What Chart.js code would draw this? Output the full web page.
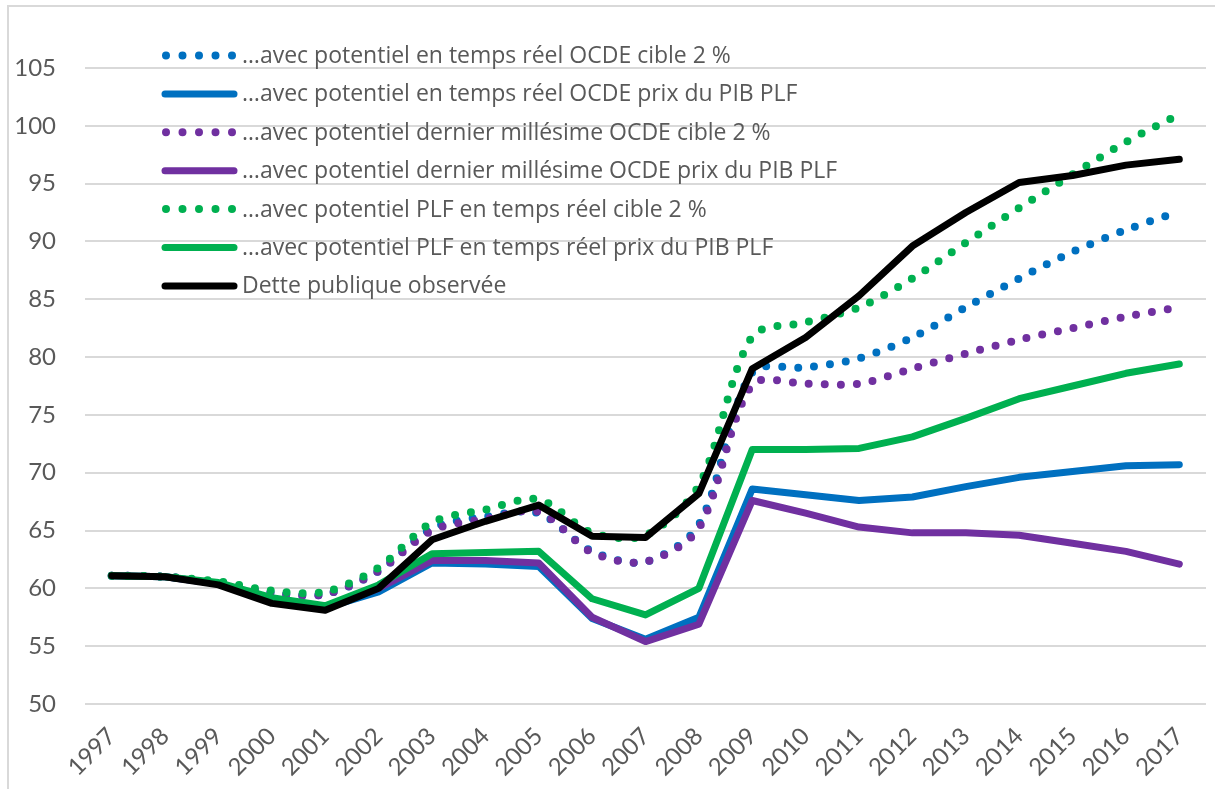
<!DOCTYPE html>
<html>
<head>
<meta charset="utf-8">
<script src="https://cdn.jsdelivr.net/npm/chart.js@4"></script>
<style>
  html, body { margin: 0; padding: 0; background: #fff; }
  #wrap { width: 1215px; height: 789px; }
</style>
</head>
<body>
<div id="wrap"><canvas id="chart" width="1215" height="789"></canvas></div>
<script>
/* === DATA === */
const years = ["1997","1998","1999","2000","2001","2002","2003","2004","2005","2006","2007",
               "2008","2009","2010","2011","2012","2013","2014","2015","2016","2017"];
const yTicks = [50, 55, 60, 65, 70, 75, 80, 85, 90, 95, 100, 105];

const ocdeReelCible    = [61.1,61.0,60.5,59.6,59.5,61.5,65.2,66.2,66.5,63.2,62.3,65.5,78.7,79.1,79.9,81.7,84.3,86.8,89.1,91.0,92.6];
const ocdeReelPrix     = [61.1,61.0,60.4,59.0,58.3,59.7,62.2,62.1,61.9,57.4,55.6,57.5,68.6,68.1,67.6,67.9,68.8,69.6,70.1,70.6,70.7];
const ocdeDernierCible = [61.1,61.0,60.5,59.6,59.5,61.5,65.0,66.0,66.6,63.1,62.3,65.2,77.6,77.7,77.7,79.0,80.3,81.5,82.5,83.5,84.3];
const ocdeDernierPrix  = [61.1,61.0,60.4,59.0,58.3,60.0,62.4,62.4,62.2,57.5,55.4,56.9,67.6,66.5,65.3,64.8,64.8,64.6,63.9,63.2,62.1];
const plfCible         = [61.1,61.0,60.6,59.8,59.7,61.8,65.7,66.8,67.7,64.8,64.6,68.9,81.8,83.0,84.3,86.8,89.9,92.9,95.8,98.6,101.0];
const plfPrix          = [61.1,61.0,60.5,59.2,58.5,60.3,63.0,63.1,63.2,59.1,57.7,60.0,72.0,72.0,72.1,73.1,74.7,76.4,77.5,78.6,79.4];
const detteObservee    = [61.1,61.0,60.3,58.7,58.1,60.0,64.2,65.8,67.2,64.5,64.4,68.2,79.0,81.7,85.3,89.6,92.5,95.1,95.7,96.6,97.1];

const BLUE = "#0070C0", PURPLE = "#7030A0", GREEN = "#00B050", BLACK = "#000000";
const TEXT = "#595959", GRID = "#d9d9d9";
const FONT = "Lato";
const LEGEND_FONT = "23px 'Open Sans'";

// dotted = smoothed round dots, solid = straight thick line
function series(label, data, color, dotted, order) {
    return {
        label, data, order,
        borderColor: color,
        backgroundColor: color,
        borderWidth: dotted ? 8 : 7,
        borderDash: dotted ? [0, 16] : [],
        borderCapStyle: "round",
        borderJoinStyle: "round",
        tension: dotted ? 0.3 : 0,
        pointRadius: 0,
        fill: false,
        dotted,
    };
}

/* === PLUGINS === */
const frame = {
    id: "frame",
    beforeDraw(chart) {
        const ctx = chart.ctx;
        ctx.save();
        ctx.fillStyle = "#fff";
        ctx.fillRect(0, 0, chart.width, chart.height);
        ctx.strokeStyle = GRID;
        ctx.lineWidth = 2;
        ctx.beginPath();
        ctx.moveTo(8, chart.height);
        ctx.lineTo(8, 6);
        ctx.lineTo(chart.width, 6);
        ctx.stroke();
        ctx.restore();
    }
};

// legend drawn inside the plot, top-left, like the original
const innerLegend = {
    id: "innerLegend",
    afterDatasetsDraw(chart) {
        const ctx = chart.ctx;
        const x0 = 166, x1 = 234, textX = 242;
        let y = 55.5;
        ctx.save();
        chart.data.datasets.forEach(ds => {
            ctx.strokeStyle = ds.borderColor;
            ctx.lineCap = "round";
            ctx.lineWidth = ds.borderWidth;
            ctx.setLineDash(ds.dotted ? [0, 16.5] : []);
            ctx.beginPath();
            ctx.moveTo(ds.dotted ? x0 : x0 - 1, y);
            ctx.lineTo(ds.dotted ? x0 + 66.5 : x1, y);
            ctx.stroke();
            ctx.setLineDash([]);
            ctx.fillStyle = TEXT;
            ctx.font = LEGEND_FONT;
            ctx.textBaseline = "middle";
            ctx.textAlign = "left";
            ctx.fillText(ds.label, textX, y + 1);
            y += 38.4;
        });
        ctx.restore();
    }
};

/* === CHART === */
new Chart(document.getElementById("chart"), {
    type: "line",
    data: {
        labels: years,
        datasets: [
            series("\u2026avec potentiel en temps r\u00e9el OCDE cible 2 %", ocdeReelCible, BLUE, true, 6),
            series("\u2026avec potentiel en temps r\u00e9el OCDE prix du PIB PLF", ocdeReelPrix, BLUE, false, 5),
            series("\u2026avec potentiel dernier mill\u00e9sime OCDE cible 2 %", ocdeDernierCible, PURPLE, true, 4),
            series("\u2026avec potentiel dernier mill\u00e9sime OCDE prix du PIB PLF", ocdeDernierPrix, PURPLE, false, 3),
            series("\u2026avec potentiel PLF en temps r\u00e9el cible 2 %", plfCible, GREEN, true, 2),
            series("\u2026avec potentiel PLF en temps r\u00e9el prix du PIB PLF", plfPrix, GREEN, false, 1),
            series("Dette publique observ\u00e9e", detteObservee, BLACK, false, 0),
        ]
    },
    options: {
        responsive: false,
        animation: false,
        layout: { padding: { top: 68, right: 9, left: 0, bottom: 0 } },
        plugins: {
            legend: { display: false },
            tooltip: { enabled: false },
        },
        scales: {
            x: {
                offset: true,
                grid: { display: false },
                border: { display: false },
                ticks: {
                    color: TEXT,
                    font: { family: FONT, size: 24 },
                    maxRotation: 45,
                    minRotation: 45,
                    autoSkip: false,
                    padding: 10,
                },
                afterFit(scale) { scale.height = 85; },
            },
            y: {
                min: 50,
                max: 105,
                afterBuildTicks(scale) { scale.ticks = yTicks.map(v => ({ value: v })); },
                grid: { color: GRID, lineWidth: 2, drawTicks: false },
                border: { display: false },
                ticks: {
                    color: TEXT,
                    font: { family: FONT, size: 24 },
                    padding: 29,
                },
                afterFit(scale) { scale.width = 85; },
            }
        }
    },
    plugins: [frame, innerLegend]
});
</script>
</body>
</html>
